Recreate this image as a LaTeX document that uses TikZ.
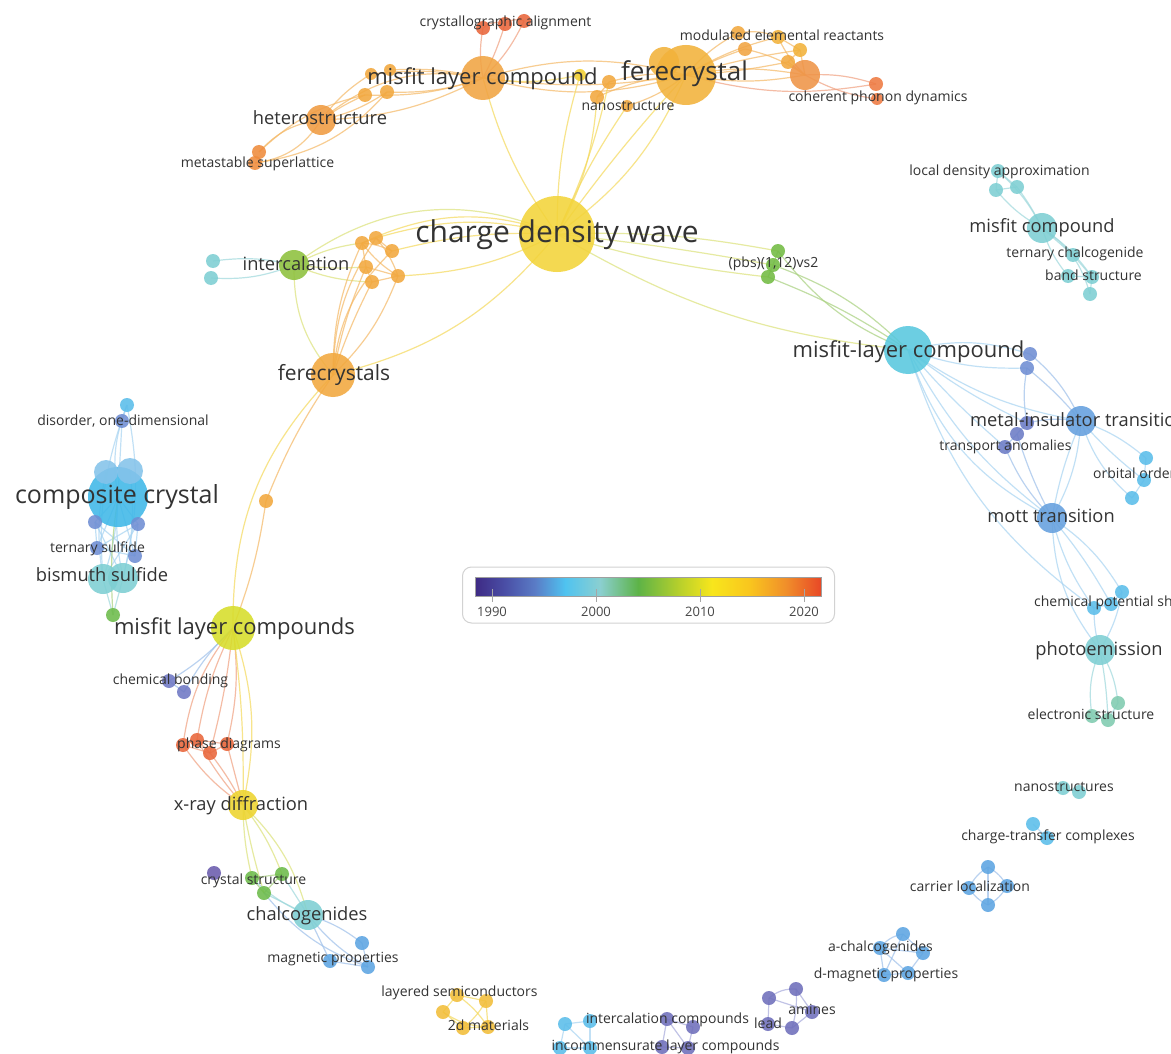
\documentclass[tikz,border=0pt]{standalone}
\usepackage{fontspec}
\setmainfont{Open Sans}
\usetikzlibrary{backgrounds}
% node colours
\definecolor{labc}{HTML}{333333}
\definecolor{cY}{HTML}{F3D43A}
\definecolor{cO1}{HTML}{F1A443}
\definecolor{cO2}{HTML}{F2B23B}
\definecolor{cO3}{HTML}{F09B42}
\definecolor{cO4}{HTML}{EF8B3C}
\definecolor{cR}{HTML}{E9663B}
\definecolor{cOs}{HTML}{F2A83E}
\definecolor{cYl}{HTML}{F2D030}
\definecolor{cCP}{HTML}{EF9447}
\definecolor{cR2}{HTML}{EE7A42}
\definecolor{cG}{HTML}{8EC13D}
\definecolor{cT}{HTML}{7ECFD3}
\definecolor{cPB}{HTML}{72BB43}
\definecolor{cC}{HTML}{58C8DE}
\definecolor{cBP}{HTML}{6F8ED3}
\definecolor{cMB}{HTML}{65A0DE}
\definecolor{cTA}{HTML}{6C7CC6}
\definecolor{cLB}{HTML}{5BBDEA}
\definecolor{cTG}{HTML}{80CBB0}
\definecolor{cCC}{HTML}{3FB8E8}
\definecolor{cCCl}{HTML}{85C3EA}
\definecolor{cCB}{HTML}{6F78C4}
\definecolor{cYG}{HTML}{D7DD2A}
\definecolor{cXR}{HTML}{EDD42E}
\definecolor{cPu}{HTML}{6A5CAE}
\definecolor{cGr}{HTML}{6DBB4A}
\definecolor{cLS}{HTML}{F2BE3A}
\definecolor{cPP}{HTML}{6F6FBB}
\definecolor{cBB}{HTML}{5DA5E2}
% edge colours
\definecolor{eY}{HTML}{F5D95A}
\definecolor{eO}{HTML}{F5B865}
\definecolor{eR}{HTML}{F0A080}
\definecolor{eG}{HTML}{A8D07E}
\definecolor{eT}{HTML}{9ED8DC}
\definecolor{eB}{HTML}{A8D4F2}
\definecolor{eP}{HTML}{A8AADC}
\definecolor{eYG}{HTML}{DCE27A}
\definecolor{eBl}{HTML}{9EC0EA}
% legend colours
\definecolor{g1}{HTML}{3E2A84}
\definecolor{g2}{HTML}{4A4FA6}
\definecolor{g3}{HTML}{5A7CC6}
\definecolor{g4}{HTML}{4FC3F0}
\definecolor{g5}{HTML}{8BCFD0}
\definecolor{g6}{HTML}{5DB347}
\definecolor{g7}{HTML}{B5CF2C}
\definecolor{g8}{HTML}{F8E61C}
\definecolor{g9}{HTML}{F9C51E}
\definecolor{g10}{HTML}{F08E2A}
\definecolor{g11}{HTML}{E84827}
\tikzset{
  kwnode/.style 2 args={circle, inner sep=0pt, minimum size={2*#1pt}, fill=#2, fill opacity=0.88, draw=none},
  kwedge/.style={draw=#1, line width=1.2pt, draw opacity=0.7},
  kwlab/.style={font=\fontsize{#1}{#1}\selectfont, text=labc, inner sep=0pt, anchor=base},
  kwlabw/.style={font=\fontsize{#1}{#1}\selectfont, text=labc, inner sep=0pt, anchor=base west},
  tick/.style={draw=gray!70, line width=0.8pt},
  ticklab/.style={font=\fontsize{13}{13}\selectfont, text=labc!90, inner sep=0pt}
}
\newcommand\KWnode[5]{\node[kwnode={#4}{#5}] (#1) at (#2,#3) {};}
\newcommand\KWedge[4]{\draw[kwedge=#1] (#2.center) to[#3] (#4.center);}
\newcommand\KWlab[5]{\node[kwlab=#4] (#1) at ({#2},{#3+0.32*#4}) {#5};}
\newcommand\KWlabw[5]{\node[kwlabw=#4] (#1) at ({#2},{#3+0.32*#4}) {#5};}
\begin{document}
\begin{tikzpicture}[x=1pt,y=-1pt]
\useasboundingbox (0,0) rectangle (1171,1054);
\clip (0,0) rectangle (1171,1054);
% ---------- nodes ----------
\KWnode{cdw}{557}{234}{38}{cY}
\KWnode{mlc}{483}{78}{22}{cO1}
\KWnode{fc}{686}{75}{30}{cO2}
\KWnode{fcb}{664}{62}{15}{cO2}
\KWnode{het}{321}{120}{15}{cO3}
\KWnode{ms1}{259}{152}{7}{cO4}
\KWnode{ms2}{255}{163}{7}{cO4}
\KWnode{ca1}{483}{28}{7}{cR}
\KWnode{ca2}{505}{24}{7}{cR}
\KWnode{ca3}{524}{21}{7}{cR}
\KWnode{o1}{371}{74}{6}{cOs}
\KWnode{o2}{390}{70}{6}{cOs}
\KWnode{o3}{365}{95}{7}{cOs}
\KWnode{o4}{387}{92}{7}{cOs}
\KWnode{yl}{580}{75}{6}{cYl}
\KWnode{ns1}{609}{82}{7}{cOs}
\KWnode{ns2}{597}{97}{7}{cOs}
\KWnode{ns3}{627}{106}{6}{cOs}
\KWnode{mr1}{738}{33}{7}{cOs}
\KWnode{mr2}{745}{49}{7}{cO1}
\KWnode{mr3}{778}{37}{7}{cO2}
\KWnode{mr4}{800}{50}{7}{cO2}
\KWnode{mr5}{788}{62}{7}{cOs}
\KWnode{cp}{805}{75}{15}{cCP}
\KWnode{cp1}{876}{84}{7}{cR2}
\KWnode{cp2}{877}{99}{6}{cR2}
\KWnode{ic}{294}{265}{15}{cG}
\KWnode{t1}{213}{261}{7}{cT}
\KWnode{t2}{211}{278}{7}{cT}
\KWnode{q1}{362}{243}{7}{cOs}
\KWnode{q2}{376}{238}{7}{cOs}
\KWnode{q3}{392}{251}{7}{cOs}
\KWnode{q4}{366}{267}{7}{cOs}
\KWnode{q5}{372}{282}{7}{cOs}
\KWnode{q6}{398}{276}{7}{cOs}
\KWnode{fcs}{333}{375}{22}{cOs}
\KWnode{on}{266}{501}{7}{cOs}
\KWnode{pb1}{778}{251}{7}{cPB}
\KWnode{pb2}{773}{265}{7}{cPB}
\KWnode{pb3}{768}{277}{7}{cPB}
\KWnode{mlc2}{908}{350}{24}{cC}
\KWnode{b1}{1030}{354}{7}{cBP}
\KWnode{b2}{1027}{368}{7}{cBP}
\KWnode{mit}{1081}{421}{15}{cMB}
\KWnode{ta1}{1027}{423}{7}{cTA}
\KWnode{ta2}{1017}{434}{7}{cTA}
\KWnode{ta3}{1005}{447}{7}{cTA}
\KWnode{oo1}{1146}{458}{7}{cLB}
\KWnode{oo2}{1144}{480}{7}{cLB}
\KWnode{oo3}{1132}{498}{7}{cLB}
\KWnode{mott}{1052}{518}{15}{cMB}
\KWnode{cps1}{1122}{592}{7}{cLB}
\KWnode{cps2}{1111}{604}{7}{cLB}
\KWnode{cps3}{1094}{608}{7}{cLB}
\KWnode{pe}{1100}{650}{15}{cT}
\KWnode{es1}{1118}{703}{7}{cTG}
\KWnode{es2}{1092}{716}{7}{cTG}
\KWnode{es3}{1108}{720}{7}{cTG}
\KWnode{ld1}{998}{171}{7}{cT}
\KWnode{ld2}{996}{190}{7}{cT}
\KWnode{ld3}{1017}{187}{7}{cT}
\KWnode{mc}{1042}{228}{15}{cT}
\KWnode{tc}{1073}{255}{7}{cT}
\KWnode{bs1}{1068}{276}{7}{cT}
\KWnode{bs2}{1092}{277}{7}{cT}
\KWnode{bs3}{1090}{294}{7}{cT}
\KWnode{cc}{118}{497}{30}{cCC}
\KWnode{cc1}{106}{472}{12}{cCCl}
\KWnode{cc2}{130}{471}{13}{cCCl}
\KWnode{do1}{127}{405}{7}{cLB}
\KWnode{do2}{122}{421}{7}{cBP}
\KWnode{bp1}{95}{522}{7}{cBP}
\KWnode{bp2}{138}{524}{7}{cBP}
\KWnode{bp3}{97}{548}{7}{cBP}
\KWnode{bp4}{135}{556}{7}{cBP}
\KWnode{bis1}{103}{579}{15}{cT}
\KWnode{bis2}{123}{578}{15}{cT}
\KWnode{gn}{113}{615}{7}{cGr}
\KWnode{mlcs}{233}{628}{22}{cYG}
\KWnode{cb1}{169}{681}{7}{cCB}
\KWnode{cb2}{184}{692}{7}{cCB}
\KWnode{pd1}{183}{745}{7}{cR}
\KWnode{pd2}{197}{740}{7}{cR}
\KWnode{pd3}{210}{753}{7}{cR}
\KWnode{pd4}{227}{744}{7}{cR}
\KWnode{xrd}{243}{805}{15}{cXR}
\KWnode{cs1}{214}{873}{7}{cPu}
\KWnode{cs2}{252}{878}{7}{cGr}
\KWnode{cs3}{282}{874}{7}{cGr}
\KWnode{cs4}{264}{893}{7}{cGr}
\KWnode{ch}{308}{915}{15}{cT}
\KWnode{mp1}{362}{943}{7}{cBB}
\KWnode{mp2}{368}{967}{7}{cBB}
\KWnode{mp3}{330}{961}{7}{cBB}
\KWnode{ls1}{457}{995}{7}{cLS}
\KWnode{ls2}{486}{1001}{7}{cLS}
\KWnode{ls3}{443}{1012}{7}{cLS}
\KWnode{ls4}{463}{1028}{7}{cLS}
\KWnode{ls5}{488}{1027}{7}{cLS}
\KWnode{icc1}{565}{1024}{7}{cLB}
\KWnode{icc2}{590}{1021}{7}{cLB}
\KWnode{icc3}{560}{1048}{7}{cLB}
\KWnode{icc4}{590}{1048}{7}{cLB}
\KWnode{pu1}{667}{1019}{7}{cPP}
\KWnode{pu2}{693}{1027}{7}{cPP}
\KWnode{pu3}{662}{1047}{7}{cPP}
\KWnode{pu4}{688}{1048}{7}{cPP}
\KWnode{am1}{769}{998}{7}{cPP}
\KWnode{am2}{796}{989}{7}{cPP}
\KWnode{am3}{812}{1012}{7}{cPP}
\KWnode{am4}{792}{1028}{7}{cPP}
\KWnode{am5}{768}{1024}{7}{cPP}
\KWnode{ac1}{903}{934}{7}{cBB}
\KWnode{ac2}{880}{948}{7}{cBB}
\KWnode{ac3}{923}{953}{7}{cBB}
\KWnode{ac4}{884}{975}{7}{cBB}
\KWnode{ac5}{908}{973}{7}{cBB}
\KWnode{cl1}{988}{867}{7}{cBB}
\KWnode{cl2}{969}{888}{7}{cBB}
\KWnode{cl3}{1007}{886}{7}{cBB}
\KWnode{cl4}{988}{905}{7}{cBB}
\KWnode{ct1}{1033}{824}{7}{cLB}
\KWnode{ct2}{1047}{838}{7}{cLB}
\KWnode{nss1}{1063}{788}{7}{cT}
\KWnode{nss2}{1079}{792}{7}{cT}
% ---------- edges ----------
\begin{scope}[on background layer]
\fill[white] (0,0) rectangle (1171,1054);
% top cluster
\KWedge{eO}{het}{bend left=25}{mlc}
\KWedge{eO}{het}{bend right=12}{mlc}
\KWedge{eO}{het}{bend left=10}{o1}
\KWedge{eO}{het}{bend left=5}{o3}
\KWedge{eO}{het}{bend right=10}{o4}
\KWedge{eO}{o1}{bend left=8}{mlc}
\KWedge{eO}{o2}{bend left=8}{mlc}
\KWedge{eO}{o3}{bend right=10}{mlc}
\KWedge{eO}{o4}{bend right=10}{mlc}
\KWedge{eO}{ms1}{bend left=20}{het}
\KWedge{eO}{ms2}{bend right=25}{het}
\KWedge{eO}{ms1}{bend left=15}{o3}
\KWedge{eO}{ms2}{bend right=20}{o4}
\KWedge{eR}{mlc}{bend left=10}{ca1}
\KWedge{eR}{mlc}{bend right=5}{ca2}
\KWedge{eR}{mlc}{bend right=10}{ca3}
\KWedge{eR}{ca1}{bend left=30}{ca2}
\KWedge{eR}{ca2}{bend left=30}{ca3}
\KWedge{eO}{mlc}{bend left=15}{fc}
\KWedge{eO}{mlc}{bend right=8}{fc}
\KWedge{eO}{mlc}{bend right=15}{fc}
\KWedge{eY}{mlc}{bend right=10}{yl}
\KWedge{eO}{fc}{bend right=10}{ns1}
\KWedge{eO}{fc}{bend right=10}{ns2}
\KWedge{eO}{fc}{bend left=10}{ns3}
\KWedge{eO}{ns1}{}{ns2}
\KWedge{eO}{fc}{bend left=10}{mr1}
\KWedge{eO}{fc}{bend left=5}{mr2}
\KWedge{eO}{fc}{bend left=8}{mr3}
\KWedge{eO}{fc}{bend left=4}{mr4}
\KWedge{eO}{fc}{bend right=4}{mr5}
\KWedge{eO}{fc}{bend left=10}{cp}
\KWedge{eO}{fc}{bend right=10}{cp}
\KWedge{eO}{mr2}{bend left=10}{cp}
\KWedge{eO}{mr3}{bend right=10}{cp}
\KWedge{eO}{mr4}{}{cp}
\KWedge{eO}{mr5}{}{cp}
\KWedge{eO}{mr1}{bend left=15}{mr3}
\KWedge{eO}{mr3}{}{mr4}
\KWedge{eO}{mr4}{}{mr5}
\KWedge{eR}{cp}{bend left=10}{cp1}
\KWedge{eR}{cp}{bend right=10}{cp2}
\KWedge{eR}{fc}{bend right=12}{cp1}
% charge density wave
\KWedge{eY}{cdw}{bend left=10}{mlc}
\KWedge{eY}{cdw}{bend right=12}{ns2}
\KWedge{eY}{cdw}{bend right=6}{ns1}
\KWedge{eY}{cdw}{bend left=5}{ns3}
\KWedge{eY}{cdw}{bend right=15}{fc}
\KWedge{eY}{cdw}{bend left=3}{fc}
\KWedge{eY}{cdw}{bend left=8}{yl}
\KWedge{eYG}{ic}{bend left=30}{cdw}
\KWedge{eY}{q1}{bend left=22}{cdw}
\KWedge{eY}{q2}{bend left=15}{cdw}
\KWedge{eY}{q3}{bend left=8}{cdw}
\KWedge{eY}{q6}{bend right=12}{cdw}
\KWedge{eY}{cdw}{bend left=18}{fcs}
\KWedge{eYG}{cdw}{bend left=6}{pb1}
\KWedge{eYG}{cdw}{bend left=2}{pb2}
\KWedge{eYG}{cdw}{bend right=5}{pb3}
\KWedge{eYG}{cdw}{bend right=12}{mlc2}
% intercalation cluster
\KWedge{eT}{t1}{bend left=10}{ic}
\KWedge{eT}{t2}{bend right=12}{ic}
\KWedge{eYG}{ic}{bend left=10}{q1}
\KWedge{eYG}{ic}{bend right=5}{q4}
\KWedge{eYG}{ic}{bend right=10}{q5}
\KWedge{eYG}{ic}{bend right=20}{fcs}
\KWedge{eO}{q1}{}{q2}
\KWedge{eO}{q1}{bend left=10}{q3}
\KWedge{eO}{q2}{}{q3}
\KWedge{eO}{q1}{}{q4}
\KWedge{eO}{q4}{}{q5}
\KWedge{eO}{q4}{}{q6}
\KWedge{eO}{q5}{}{q6}
\KWedge{eO}{q2}{bend left=10}{q6}
\KWedge{eO}{q1}{bend right=10}{q6}
\KWedge{eO}{q1}{bend right=12}{fcs}
\KWedge{eO}{q2}{bend right=16}{fcs}
\KWedge{eO}{q4}{bend right=6}{fcs}
\KWedge{eO}{q5}{bend right=4}{fcs}
\KWedge{eO}{q6}{bend left=12}{fcs}
\KWedge{eO}{q3}{bend right=20}{fcs}
% ferecrystals to bottom left
\KWedge{eY}{fcs}{bend right=22}{mlcs}
\KWedge{eO}{fcs}{bend right=6}{on}
\KWedge{eO}{on}{bend left=6}{mlcs}
% right side
\KWedge{eG}{pb1}{bend right=15}{mlc2}
\KWedge{eG}{pb2}{bend left=12}{mlc2}
\KWedge{eG}{pb3}{bend left=6}{mlc2}
\KWedge{eG}{pb1}{}{pb2}
\KWedge{eG}{pb2}{}{pb3}
\KWedge{eB}{mlc2}{bend left=15}{b1}
\KWedge{eB}{mlc2}{bend right=10}{b2}
\KWedge{eBl}{b1}{bend left=12}{mit}
\KWedge{eBl}{b2}{bend left=5}{mit}
\KWedge{eBl}{b2}{bend right=10}{ta1}
\KWedge{eB}{mlc2}{bend right=12}{mit}
\KWedge{eB}{mlc2}{bend right=6}{ta1}
\KWedge{eB}{mlc2}{bend right=4}{ta3}
\KWedge{eB}{mlc2}{bend right=12}{mott}
\KWedge{eB}{mlc2}{bend right=22}{mott}
\KWedge{eB}{mlc2}{bend right=18}{cps3}
\KWedge{eBl}{ta1}{}{ta2}
\KWedge{eBl}{ta2}{}{ta3}
\KWedge{eBl}{ta1}{bend left=10}{mit}
\KWedge{eBl}{ta3}{bend right=10}{mott}
\KWedge{eBl}{ta2}{bend right=5}{mott}
\KWedge{eB}{mit}{bend left=10}{oo1}
\KWedge{eB}{mit}{bend right=5}{oo2}
\KWedge{eB}{mit}{bend right=15}{oo3}
\KWedge{eB}{oo1}{}{oo2}
\KWedge{eB}{oo2}{}{oo3}
\KWedge{eB}{mit}{bend left=12}{mott}
\KWedge{eB}{mit}{bend right=6}{mott}
\KWedge{eB}{mott}{bend left=12}{cps1}
\KWedge{eB}{mott}{bend left=5}{cps2}
\KWedge{eB}{mott}{bend right=10}{cps3}
\KWedge{eB}{mott}{bend right=18}{pe}
\KWedge{eB}{cps1}{}{cps2}
\KWedge{eB}{cps2}{}{cps3}
\KWedge{eB}{cps3}{bend right=8}{pe}
\KWedge{eB}{cps1}{bend left=10}{pe}
\KWedge{eT}{pe}{bend left=12}{es1}
\KWedge{eT}{pe}{bend right=15}{es2}
\KWedge{eT}{pe}{bend left=4}{es3}
\KWedge{eT}{es1}{}{es3}
\KWedge{eT}{es2}{}{es3}
% misfit compound cluster
\KWedge{eT}{ld1}{}{ld2}
\KWedge{eT}{ld2}{}{ld3}
\KWedge{eT}{ld1}{}{ld3}
\KWedge{eT}{ld1}{bend left=10}{mc}
\KWedge{eT}{ld3}{bend left=5}{mc}
\KWedge{eT}{ld2}{bend right=10}{mc}
\KWedge{eT}{mc}{}{tc}
\KWedge{eT}{mc}{bend right=10}{bs1}
\KWedge{eT}{mc}{bend left=10}{bs2}
\KWedge{eT}{mc}{bend left=20}{bs3}
\KWedge{eT}{tc}{}{bs2}
\KWedge{eT}{bs1}{}{bs2}
\KWedge{eT}{bs2}{}{bs3}
% composite crystal cluster
\KWedge{eB}{do1}{bend right=15}{cc}
\KWedge{eB}{do2}{}{cc}
\KWedge{eB}{do1}{bend left=12}{bis2}
\KWedge{eB}{do1}{bend right=12}{bis1}
\KWedge{eB}{do1}{}{do2}
\KWedge{eB}{cc}{}{bp1}
\KWedge{eB}{cc}{}{bp2}
\KWedge{eB}{cc}{}{bp3}
\KWedge{eB}{cc}{}{bp4}
\KWedge{eB}{cc1}{bend right=10}{bis1}
\KWedge{eB}{cc2}{bend left=10}{bis2}
\KWedge{eB}{bp1}{}{bis2}
\KWedge{eB}{bp2}{}{bis1}
\KWedge{eB}{bp1}{}{bp3}
\KWedge{eB}{bp2}{}{bp4}
\KWedge{eB}{bp3}{}{bp4}
\KWedge{eB}{bp1}{}{bp4}
\KWedge{eB}{bp2}{}{bp3}
\KWedge{eB}{cc}{bend left=8}{bis1}
\KWedge{eB}{cc}{bend right=8}{bis2}
\KWedge{eT}{bis1}{}{gn}
\KWedge{eT}{bis2}{}{gn}
\KWedge{eG}{cc}{bend right=6}{gn}
% misfit layer compounds column
\KWedge{eBl}{mlcs}{bend left=8}{cb1}
\KWedge{eBl}{mlcs}{bend right=8}{cb2}
\KWedge{eBl}{cb1}{}{cb2}
\KWedge{eR}{mlcs}{bend right=15}{pd1}
\KWedge{eR}{mlcs}{bend right=8}{pd2}
\KWedge{eR}{mlcs}{bend left=4}{pd3}
\KWedge{eR}{mlcs}{bend left=10}{pd4}
\KWedge{eY}{mlcs}{bend left=15}{xrd}
\KWedge{eY}{mlcs}{bend left=4}{xrd}
\KWedge{eR}{pd1}{}{pd2}
\KWedge{eR}{pd2}{}{pd4}
\KWedge{eR}{pd1}{}{pd3}
\KWedge{eR}{pd3}{}{pd4}
\KWedge{eR}{pd2}{}{pd3}
\KWedge{eR}{pd1}{bend right=10}{xrd}
\KWedge{eR}{pd2}{bend right=5}{xrd}
\KWedge{eR}{pd3}{bend left=5}{xrd}
\KWedge{eR}{pd4}{}{xrd}
\KWedge{eYG}{xrd}{bend right=6}{cs2}
\KWedge{eYG}{xrd}{bend left=8}{cs3}
\KWedge{eYG}{xrd}{bend right=3}{cs4}
\KWedge{eYG}{xrd}{bend left=15}{ch}
\KWedge{eG}{cs2}{}{cs4}
\KWedge{eG}{cs3}{}{cs4}
\KWedge{eG}{cs2}{}{cs3}
\KWedge{eT}{cs4}{}{ch}
\KWedge{eT}{cs3}{}{ch}
\KWedge{eT}{cs2}{bend right=10}{ch}
\KWedge{eBl}{ch}{bend left=10}{mp1}
\KWedge{eBl}{ch}{bend right=10}{mp2}
\KWedge{eBl}{ch}{}{mp3}
\KWedge{eBl}{mp1}{}{mp2}
\KWedge{eBl}{mp3}{}{mp2}
\KWedge{eBl}{cs4}{bend right=15}{mp2}
% bottom clusters
\KWedge{eY}{ls1}{}{ls2}
\KWedge{eY}{ls1}{}{ls3}
\KWedge{eY}{ls3}{}{ls4}
\KWedge{eY}{ls4}{}{ls5}
\KWedge{eY}{ls2}{}{ls5}
\KWedge{eY}{ls1}{bend left=10}{ls5}
\KWedge{eY}{ls2}{bend left=10}{ls4}
\KWedge{eY}{ls3}{bend right=15}{ls5}
\KWedge{eB}{icc1}{}{icc2}
\KWedge{eB}{icc1}{}{icc3}
\KWedge{eB}{icc2}{}{icc4}
\KWedge{eB}{icc3}{}{icc4}
\KWedge{eB}{icc1}{}{icc4}
\KWedge{eP}{pu1}{}{pu2}
\KWedge{eP}{pu1}{}{pu3}
\KWedge{eP}{pu2}{}{pu4}
\KWedge{eP}{pu3}{}{pu4}
\KWedge{eP}{pu1}{}{pu4}
\KWedge{eP}{am1}{bend left=20}{am2}
\KWedge{eP}{am2}{}{am3}
\KWedge{eP}{am3}{}{am4}
\KWedge{eP}{am4}{}{am5}
\KWedge{eP}{am5}{}{am1}
\KWedge{eP}{am1}{}{am3}
\KWedge{eP}{am2}{bend left=10}{am4}
\KWedge{eBl}{ac1}{bend right=20}{ac2}
\KWedge{eBl}{ac1}{}{ac3}
\KWedge{eBl}{ac2}{}{ac4}
\KWedge{eBl}{ac3}{}{ac5}
\KWedge{eBl}{ac4}{}{ac5}
\KWedge{eBl}{ac2}{}{ac5}
\KWedge{eBl}{ac1}{}{ac4}
\KWedge{eBl}{ac2}{}{ac3}
\KWedge{eBl}{cl1}{bend right=15}{cl2}
\KWedge{eBl}{cl1}{bend left=15}{cl3}
\KWedge{eBl}{cl2}{bend right=15}{cl4}
\KWedge{eBl}{cl3}{bend left=15}{cl4}
\KWedge{eBl}{cl1}{}{cl4}
\KWedge{eB}{ct1}{}{ct2}
\KWedge{eT}{nss1}{}{nss2}
\end{scope}
% ---------- labels ----------
\KWlab{Lcdw}{557}{233}{30}{charge density wave}
\KWlab{Lfc}{684.5}{72}{26}{ferecrystal}
\KWlab{Lmlc}{482.5}{77}{22}{misfit layer compound}
\KWlab{Lhet}{320}{119}{18.3}{heterostructure}
\KWlab{Lms}{257.5}{163}{14}{metastable superlattice}
\KWlab{Lca}{505.5}{22}{14}{crystallographic alignment}
\KWlab{Lmr}{782}{36}{14}{modulated elemental reactants}
\KWlab{Lns}{628}{106}{14}{nanostructure}
\KWlab{Lcp}{878}{97}{14}{coherent phonon dynamics}
\KWlab{Lic}{296}{265}{18.3}{intercalation}
\KWlab{Lfcs}{334}{374}{21}{ferecrystals}
\KWlab{Lpb}{773.5}{263}{14}{(pbs)(1,12)vs2}
\KWlab{Lmlc2}{908.5}{350}{22}{misfit-layer compound}
\KWlab{Lld}{999.5}{171}{14}{local density approximation}
\KWlab{Lmc}{1042}{227}{18.3}{misfit compound}
\KWlab{Ltc}{1075}{253}{14}{ternary chalcogenide}
\KWlab{Lbs}{1093.5}{276}{14}{band structure}
\KWlabw{Lmit}{970}{421}{18.3}{metal-insulator transition}
\KWlab{Lta}{1005.5}{446}{14}{transport anomalies}
\KWlabw{Loo}{1093}{474}{14}{orbital order}
\KWlab{Lmott}{1051}{517}{18.3}{mott transition}
\KWlabw{Lcps}{1034}{602}{14}{chemical potential shift}
\KWlab{Lpe}{1099}{650}{18.3}{photoemission}
\KWlab{Les}{1091}{715}{14}{electronic structure}
\KWlab{Lnss}{1064}{787}{14}{nanostructures}
\KWlab{Lct}{1048}{836}{14}{charge-transfer complexes}
\KWlab{Lcl}{970}{887}{14}{carrier localization}
\KWlab{Lac}{880.5}{947}{14}{a-chalcogenides}
\KWlab{Ldm}{886}{974}{14}{d-magnetic properties}
\KWlab{Lam}{812}{1010}{14}{amines}
\KWlab{Llead}{768}{1024}{14}{lead}
\KWlab{Licc}{667.5}{1019}{14}{intercalation compounds}
\KWlab{Lilc}{665.5}{1046}{14}{incommensurate layer compounds}
\KWlab{Lls}{459.5}{992}{14}{layered semiconductors}
\KWlab{L2d}{488.5}{1026}{14}{2d materials}
\KWlab{Lmp}{333}{958}{14}{magnetic properties}
\KWlab{Lch}{307}{915}{18.3}{chalcogenides}
\KWlab{Lcs}{253.5}{880}{14}{crystal structure}
\KWlab{Lxrd}{241}{805}{18.3}{x-ray diffraction}
\KWlab{Lpd}{229}{744}{14}{phase diagrams}
\KWlab{Lcb}{170.5}{680}{14}{chemical bonding}
\KWlab{Lmlcs}{234.5}{627}{22}{misfit layer compounds}
\KWlab{Lbis}{102}{576}{18.3}{bismuth sulfide}
\KWlab{Lts}{97.5}{548}{14}{ternary sulfide}
\KWlab{Lcc}{117}{495}{25}{composite crystal}
\KWlab{Ldo}{123}{421}{14}{disorder, one-dimensional}
% ---------- legend ----------
\node[draw=gray!35, line width=1pt, rounded corners=9pt, fill=white, minimum width=372pt, minimum height=56pt, inner sep=0pt] (legend) at (648.5,595) {};
\shade[left color=g1, right color=g2] (475,577) rectangle (505.2,596);
\shade[left color=g2, right color=g3] (505,577) rectangle (535.2,596);
\shade[left color=g3, right color=g4] (535,577) rectangle (565.2,596);
\shade[left color=g4, right color=g5] (565,577) rectangle (600.2,596);
\shade[left color=g5, right color=g6] (600,577) rectangle (638.2,596);
\shade[left color=g6, right color=g7] (638,577) rectangle (678.2,596);
\shade[left color=g7, right color=g8] (678,577) rectangle (712.2,596);
\shade[left color=g8, right color=g9] (712,577) rectangle (750.2,596);
\shade[left color=g9, right color=g10] (750,577) rectangle (786.2,596);
\shade[left color=g10, right color=g11] (786,577) rectangle (821,596);
\draw[gray!75, line width=0.8pt] (475,577) rectangle (821,596);
\coordinate (t90) at (492,589);
\coordinate (t00) at (596,589);
\coordinate (t10) at (700,589);
\coordinate (t20) at (804,589);
\draw[tick] (t90) -- ++(0,13);
\draw[tick] (t00) -- ++(0,13);
\draw[tick] (t10) -- ++(0,13);
\draw[tick] (t20) -- ++(0,13);
\node[ticklab] (y90) at (492,612) {1990};
\node[ticklab] (y00) at (596,612) {2000};
\node[ticklab] (y10) at (700,612) {2010};
\node[ticklab] (y20) at (804,612) {2020};
\end{tikzpicture}
\end{document}
